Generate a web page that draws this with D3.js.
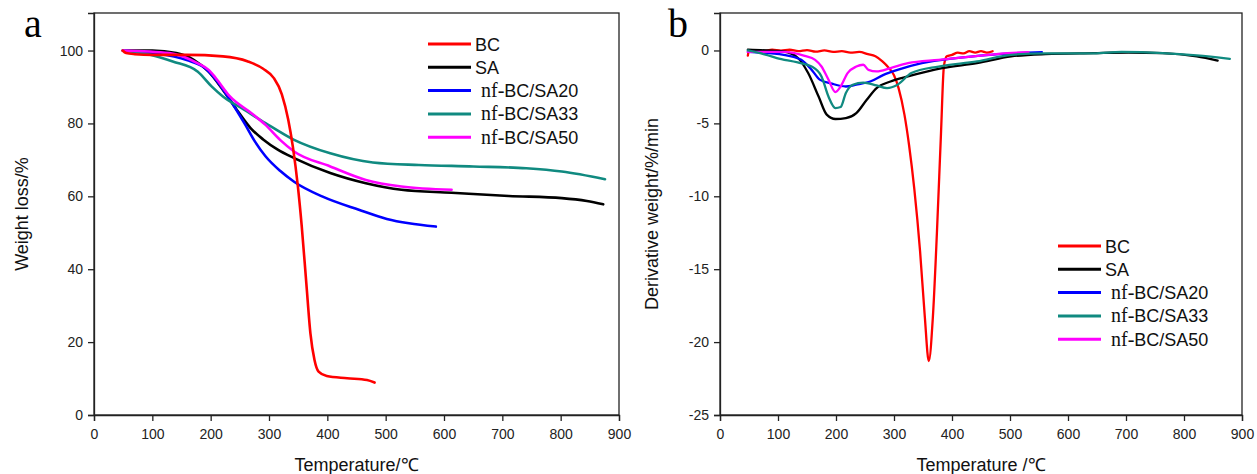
<!DOCTYPE html>
<html>
<head>
<meta charset="utf-8">
<script src="https://cdn.jsdelivr.net/npm/d3@7"></script>
<style>
  html, body { margin: 0; padding: 0; background: #fff; }
  svg { display: block; }
</style>
</head>
<body>
<svg id="chart" width="1257" height="474"></svg>
<script>
// ---- Data ----
const seriesNames = ["BC", "SA", "nf-BC/SA20", "nf-BC/SA33", "nf-BC/SA50"];
const seriesColors = ["#ff0000", "#000000", "#0000ff", "#108a80", "#ff00ff"];

const xTicks = [0, 100, 200, 300, 400, 500, 600, 700, 800, 900];
const yTicksA = [0, 20, 40, 60, 80, 100];
const yTicksB = [0, -5, -10, -15, -20, -25];

// Panel a: TGA weight (%) vs temperature (°C)
const tgaBC = [[49,100],[55,99.3],[70,99.0],[100,98.8],[159,98.8],[221,98.4],[264,97],[290,95],[308,92.5],[322,88],[333,81],[341,73.5],[349.5,62.7],[356,52],[364,36.1],[371,22.4],[378,15.1],[385,11.9],[399,10.7],[434,10.1],[468,9.6],[481,8.9]];
const tgaSA = [[49.5,100],[100,100],[141,99.3],[171.5,97.4],[196.5,94.2],[221,89.2],[245,83.7],[268,78.8],[290,75.6],[315,72.8],[343,70.5],[405,66.4],[466,63.6],[527,61.8],[613,61],[711,60.1],[802,59.5],[845,58.7],[873,57.8]];
const tgaSA20 = [[49.5,100],[98,99.3],[159,97.4],[190,95.2],[209,92],[233,86.5],[258,80],[276,75],[294,71],[319,67],[343,64],[392,59.9],[454,56.3],[502,53.8],[540,52.6],[586,51.7]];
const tgaSA33 = [[49.5,100],[98,98.8],[135,97],[178,94.2],[202,90.1],[221,87.4],[258,83.7],[294,80.1],[343,75.5],[405,71.8],[478,69.3],[557,68.6],[650,68.2],[741,67.7],[802,66.8],[876,64.7]];
const tgaSA50 = [[49.5,100],[129,99.3],[178,96.5],[196.5,94.7],[209,92.4],[233,87.4],[270,82.8],[294,79.6],[319,75.5],[343,72.3],[405,68.2],[466,64.5],[527,62.7],[613,61.8]];

// Panel b: DTG derivative weight (%/min) vs temperature (°C)
const dtgBC = [[48,-0.35],[50,0.0],[60,0.02],[75,-0.05],[90,0.05],[105,-0.02],[120,0.05],[135,-0.05],[150,0.03],[165,-0.08],[180,0.0],[195,-0.1],[210,-0.05],[225,-0.15],[240,-0.1],[255,-0.25],[268,-0.4],[280,-0.75],[290,-1.15],[300,-1.7],[308,-2.6],[318,-4.4],[326,-6.5],[335,-9.5],[345,-13.8],[353,-18.2],[360,-21.3],[367,-18.3],[374,-12.5],[381,-5.7],[386,-1.1],[391,-0.4],[400,-0.3],[410,-0.15],[420,-0.2],[430,-0.05],[440,-0.15],[450,-0.05],[460,-0.15],[470,-0.05]];
const dtgSA = [[48,0.05],[80,0],[110,-0.07],[134,-0.5],[152,-1.55],[170,-3.16],[184,-4.4],[199,-4.7],[217,-4.64],[235,-4.3],[253,-3.38],[270,-2.58],[294,-2.13],[324,-1.78],[383,-1.21],[443,-0.87],[502,-0.41],[561,-0.25],[644,-0.18],[704,-0.14],[763,-0.18],[822,-0.41],[858,-0.69]];
const dtgSA20 = [[48,-0.1],[110,-0.3],[140,-0.64],[158,-1.33],[172,-2.0],[193,-2.28],[217,-2.47],[235,-2.35],[259,-2.13],[282,-1.67],[306,-1.33],[348,-0.87],[407,-0.52],[466,-0.3],[555,-0.11]];
const dtgSA33 = [[48,0],[80,-0.3],[98,-0.52],[134,-0.82],[158,-1.1],[175,-1.78],[187,-3.16],[199,-3.95],[208,-3.88],[217,-2.92],[229,-2.35],[247,-2.2],[270,-2.4],[288,-2.58],[306,-2.35],[330,-1.55],[377,-1.1],[443,-0.75],[502,-0.3],[561,-0.2],[644,-0.2],[692,-0.1],[763,-0.18],[822,-0.34],[879,-0.57]];
const dtgSA50 = [[48,-0.1],[110,-0.1],[146,-0.37],[164,-0.64],[175,-1.1],[187,-2.0],[199,-2.85],[208,-2.47],[220,-1.55],[235,-1.1],[247,-0.98],[256,-1.33],[270,-1.44],[294,-1.21],[324,-0.87],[377,-0.64],[437,-0.41],[496,-0.18],[532,-0.11]];

// ---- Drawing ----
const svg = d3.select("#chart");
svg.append("rect").attr("width", 1257).attr("height", 474).attr("fill", "#fff");
const SANS = "'Liberation Sans', Arial, sans-serif";
const SERIF = "'Liberation Serif', 'Times New Roman', serif";
const fmt = d => String(d); // plain hyphen-minus like the original

function panel(opt) {
  const x = d3.scaleLinear().domain([0, 900]).range([opt.left, opt.right]);
  const y = d3.scaleLinear().domain(opt.yDomain).range([opt.bottom, opt.top]);
  const g = svg.append("g");

  // frame
  g.append("rect")
    .attr("x", opt.left).attr("y", opt.top)
    .attr("width", opt.right - opt.left).attr("height", opt.bottom - opt.top)
    .attr("fill", "none").attr("stroke", "#222").attr("stroke-width", 1.3);

  const xa = g.append("g").attr("transform", `translate(0,${opt.bottom})`)
    .call(d3.axisBottom(x).tickValues(xTicks).tickSize(6).tickPadding(8).tickFormat(fmt));
  const ya = g.append("g").attr("transform", `translate(${opt.left},0)`)
    .call(d3.axisLeft(y).tickValues(opt.yTicks).tickSize(6).tickPadding(5).tickFormat(fmt));
  [xa, ya].forEach(a => {
    a.select(".domain").attr("stroke", "#222").attr("stroke-width", 1.3);
    a.selectAll(".tick line").attr("stroke", "#222").attr("stroke-width", 1.3);
    a.selectAll(".tick text").attr("font-family", SANS).attr("font-size", 14).attr("fill", "#222");
  });

  const line = d3.line().x(d => x(d[0])).y(d => y(d[1])).curve(d3.curveMonotoneX);
  opt.order.forEach(i => {
    g.append("path").datum(opt.data[i])
      .attr("d", line).attr("fill", "none")
      .attr("stroke", seriesColors[i]).attr("stroke-width", opt.lw)
      .attr("stroke-linejoin", "round").attr("stroke-linecap", "round");
  });

  // legend
  seriesNames.forEach((name, i) => {
    const yy = opt.legY + i * opt.legStep;
    g.append("line").attr("x1", opt.legX).attr("x2", opt.legX + opt.legLen)
      .attr("y1", yy).attr("y2", yy)
      .attr("stroke", seriesColors[i]).attr("stroke-width", 3);
    const t = g.append("text").attr("y", yy + 6.5).attr("font-size", 18).attr("fill", "#111");
    if (name.startsWith("nf-")) {
      t.attr("x", opt.legX + opt.legLen + 10);
      t.append("tspan").attr("font-family", SERIF).attr("font-size", 20).text("nf-");
      t.append("tspan").attr("font-family", SANS).text(name.slice(3));
    } else {
      t.attr("x", opt.legX + opt.legLen + 4).attr("font-family", SANS).text(name);
    }
  });

  // axis titles
  g.append("text").attr("x", (opt.left + opt.right) / 2).attr("y", 471)
    .attr("text-anchor", "middle").attr("font-family", SANS).attr("font-size", 18)
    .attr("fill", "#111").text(opt.xTitle);
  g.append("text")
    .attr("transform", `translate(${opt.yTitleX},${(opt.top + opt.bottom) / 2}) rotate(-90)`)
    .attr("text-anchor", "middle").attr("font-family", SANS).attr("font-size", 18)
    .attr("fill", "#111").text(opt.yTitle);

  // panel letter
  g.append("text").attr("x", opt.letterX).attr("y", 37)
    .attr("font-family", SERIF).attr("font-size", 40).attr("fill", "#000").text(opt.letter);
}

panel({
  left: 94, right: 619, top: 13, bottom: 415,
  yDomain: [0, 110.3], yTicks: yTicksA,
  data: [tgaBC, tgaSA, tgaSA20, tgaSA33, tgaSA50],
  order: [1, 2, 3, 4, 0], lw: 2.6,
  legX: 428, legLen: 43, legY: 44, legStep: 23.3,
  xTitle: "Temperature/℃", yTitle: "Weight loss/%", yTitleX: 28,
  letter: "a", letterX: 24
});

panel({
  left: 720, right: 1242, top: 13, bottom: 415,
  yDomain: [-25, 2.57], yTicks: yTicksB,
  data: [dtgBC, dtgSA, dtgSA20, dtgSA33, dtgSA50],
  order: [0, 1, 2, 4, 3], lw: 2.3,
  legX: 1058, legLen: 43, legY: 246, legStep: 23.3,
  xTitle: "Temperature /℃", yTitle: "Derivative weight/%/min", yTitleX: 658,
  letter: "b", letterX: 668
});
</script>
</body>
</html>
